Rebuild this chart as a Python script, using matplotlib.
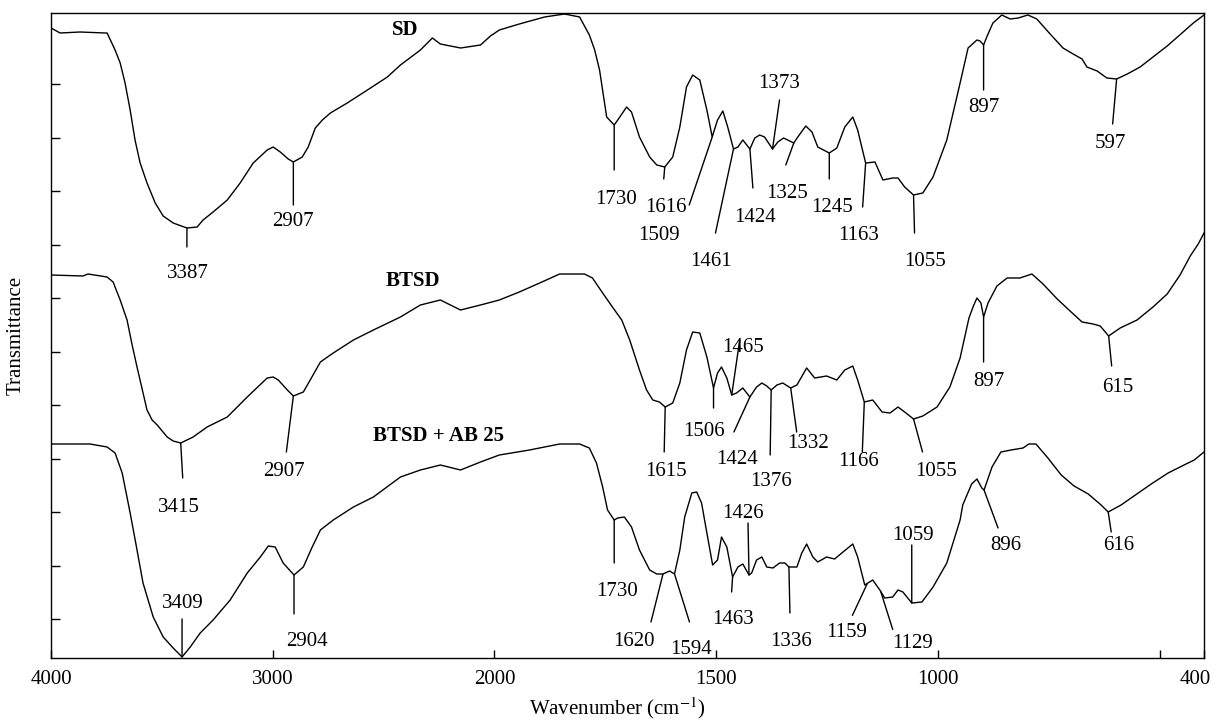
import numpy as np
import matplotlib.pyplot as plt
from matplotlib.transforms import ScaledTranslation

plt.rcParams['font.family'] = 'Liberation Serif'
plt.rcParams['mathtext.fontset'] = 'stix'

# ===================== DATA =====================
# wavenumber (cm-1) / transmittance (arbitrary units, curves stacked)
sd_wn = [4000, 3959, 3869, 3756, 3747, 3711, 3688, 3666, 3643, 3621, 3598, 3567, 3530, 3494,
         3449, 3387, 3341, 3314, 3269, 3205, 3147, 3088, 3025, 2998, 2966, 2930, 2907, 2867,
         2840, 2808, 2776, 2740, 2664, 2573, 2483, 2424, 2334, 2280,
         2244, 2153, 2063, 2018, 1989, 1944, 1887, 1842, 1808, 1786, 1774, 1763, 1747, 1730,
         1722, 1702, 1691, 1673, 1650, 1634, 1616, 1598, 1582, 1567, 1553, 1537, 1521, 1509,
         1497, 1485, 1474, 1461, 1451, 1440, 1424, 1413, 1402, 1391, 1373, 1361, 1348, 1325,
         1316, 1298, 1284, 1271, 1245, 1228, 1210, 1192, 1181, 1163, 1142, 1124, 1102, 1090,
         1075, 1055, 1034, 1011, 980, 950, 932, 912, 905, 897, 889, 876, 856, 837, 819, 797,
         777, 747, 718, 695, 675, 664, 641, 619, 597, 573, 544, 515, 483, 447, 424, 400]
sd_t = [630, 625, 626, 625, 625, 608, 595, 575, 548, 518, 495, 475, 455, 442,
        435, 430, 431, 438, 446, 458, 475, 495, 508, 511, 506, 499, 496, 501,
        511, 530, 538, 545, 555, 568, 581, 593, 608, 620,
        614, 610, 613, 622, 628, 634, 641, 644, 641, 623, 608, 588, 541, 533,
        538, 551, 546, 521, 501, 493, 491, 501, 531, 571, 583, 578, 548, 521,
        538, 547, 531, 509, 511, 518, 509, 520, 523, 521, 509, 516, 520, 515,
        521, 532, 526, 511, 505, 510, 531, 541, 528, 495, 496, 478, 480, 480,
        471, 463, 465, 481, 518, 575, 610, 618, 617, 613, 622, 635, 643, 639, 640, 643,
        639, 624, 610, 604, 599, 591, 587, 580, 579, 584, 591, 601, 612, 626, 635, 643]

btsd_wn = [4000, 3856, 3833, 3747, 3720, 3688, 3657, 3634, 3612, 3567, 3544, 3521, 3476, 3449,
           3415, 3359, 3296, 3205, 3115, 3025, 2998, 2975, 2934, 2907, 2862, 2831, 2785, 2727,
           2636, 2546, 2424, 2334, 2244, 2153, 2063, 1989, 1944, 1898, 1853, 1797, 1779, 1756,
           1734, 1713, 1695, 1673, 1657, 1643, 1628, 1615, 1598, 1582, 1567, 1553, 1537, 1521,
           1506, 1497, 1488, 1476, 1465, 1454, 1440, 1424, 1409, 1397, 1386, 1376, 1363, 1350,
           1332, 1318, 1296, 1278, 1251, 1228, 1210, 1192, 1181, 1166, 1147, 1126, 1108, 1090,
           1075, 1055, 1034, 1002, 973, 950, 930, 920, 912, 903, 897, 887, 867, 844, 815, 788,
           763, 731, 702, 675, 650, 634, 615, 589, 551, 515, 483, 454, 431, 413, 400]
btsd_t = [383, 382, 384, 381, 376, 358, 338, 313, 291, 248, 238, 233, 221, 217,
          215, 221, 231, 241, 261, 280, 281, 278, 268, 262, 266, 278, 296, 305,
          318, 328, 341, 353, 358, 348, 353, 358, 366, 375, 384, 384, 380, 365,
          351, 338, 318, 288, 268, 258, 256, 251, 255, 275, 308, 326, 325, 301,
          270, 285, 291, 280, 263, 265, 270, 261, 271, 275, 272, 268, 273, 275,
          270, 273, 290, 280, 282, 278, 288, 292, 278, 256, 258, 246, 245, 251,
          246, 239, 242, 251, 271, 300, 340, 352, 360, 355, 341, 355, 372, 380, 380, 384,
          374, 359, 347, 336, 334, 332, 322, 330, 338, 351, 364, 383, 402, 414, 425]

ab_wn = [4000, 3824, 3747, 3711, 3679, 3643, 3612, 3585, 3539, 3494, 3449, 3409, 3372, 3327,
         3269, 3192, 3115, 3056, 3020, 2989, 2953, 2904, 2862, 2822, 2785, 2727, 2636, 2546,
         2424, 2334, 2244, 2153, 2063, 1989, 1921, 1853, 1808, 1786, 1770, 1756, 1745, 1730,
         1722, 1707, 1691, 1673, 1650, 1634, 1620, 1605, 1594, 1582, 1571, 1555, 1544, 1533,
         1521, 1508, 1497, 1488, 1476, 1463, 1451, 1440, 1426, 1420, 1409, 1397, 1386, 1372,
         1357, 1345, 1336, 1318, 1307, 1296, 1282, 1271, 1251, 1233, 1214, 1192, 1181, 1165,
         1147, 1131, 1120, 1102, 1090, 1079, 1059, 1036, 1011, 980, 950, 944, 924, 912, 901,
         896, 878, 858, 835, 808, 795, 779, 752, 722, 693, 661, 632, 616, 587, 558, 519,
         481, 445, 422, 400]
ab_t = [214, 214, 211, 205, 185, 145, 108, 75, 41, 21, 10, 1, 11, 25,
        38, 58, 85, 101, 112, 111, 95, 83, 91, 111, 128, 138, 151, 161,
        181, 188, 193, 188, 196, 203, 208, 214, 214, 210, 195, 171, 148, 138,
        140, 141, 131, 108, 88, 84, 84, 87, 84, 108, 141, 165, 166, 155,
        125, 93, 98, 121, 111, 81, 91, 94, 83, 85, 98, 101, 91, 90,
        95, 95, 91, 91, 105, 114, 101, 96, 101, 99, 106, 114, 101, 73,
        78, 68, 60, 61, 68, 66, 55, 56, 71, 95, 138, 153, 174, 179, 170,
        168, 191, 206, 208, 210, 214, 214, 200, 183, 172, 164, 153, 146, 153, 162, 174,
        185, 193, 198, 206]

spectra = {
    'SD': (np.array(sd_wn), np.array(sd_t)),
    'BTSD': (np.array(btsd_wn), np.array(btsd_t)),
    'BTSD + AB 25': (np.array(ab_wn), np.array(ab_t)),
}

# series name -> label anchor (wavenumber, transmittance)
name_pos = {'SD': (2402, 628), 'BTSD': (2370, 377), 'BTSD + AB 25': (2253, 222)}

# peak labels: series, wavenumber, leader end offset, text offset (pixels)
peak_notes = [
    ('SD', 3387, (0, -19), (1, -46)),
    ('SD', 2907, (0, -43), (0, -60)),
    ('SD', 1730, (0, -45), (2, -75)),
    ('SD', 1616, (-1, -12), (1, -40)),
    ('SD', 1509, (-23, -68), (-53, -98)),
    ('SD', 1461, (-18, -84), (-23, -113)),
    ('SD', 1424, (3, -39), (5, -68)),
    ('SD', 1373, (7, 49), (7, 66)),
    ('SD', 1325, (-8, -22), (-7, -50)),
    ('SD', 1245, (0, -26), (3, -54)),
    ('SD', 1163, (-3, -44), (-7, -72)),
    ('SD', 1055, (1, -38), (12, -67)),
    ('SD', 897, (0, -45), (0, -62)),
    ('SD', 597, (-4, -45), (-6, -64)),
    ('BTSD', 3415, (2, -35), (-2, -64)),
    ('BTSD', 2907, (-7, -56), (-9, -76)),
    ('BTSD', 1615, (-1, -45), (1, -65)),
    ('BTSD', 1506, (0, -20), (-10, -44)),
    ('BTSD', 1465, (8, 55), (11, 48)),
    ('BTSD', 1424, (-16, -35), (-13, -63)),
    ('BTSD', 1376, (-1, -65), (0, -92)),
    ('BTSD', 1332, (6, -44), (17, -55)),
    ('BTSD', 1166, (-2, -50), (-6, -60)),
    ('BTSD', 1055, (9, -33), (23, -52)),
    ('BTSD', 897, (0, -45), (5, -64)),
    ('BTSD', 615, (3, -30), (9, -51)),
    ('BTSD + AB 25', 3409, (0, 38), (1, 53)),
    ('BTSD + AB 25', 2904, (0, -39), (13, -67)),
    ('BTSD + AB 25', 1730, (0, -43), (3, -72)),
    ('BTSD + AB 25', 1620, (-12, -48), (-29, -68)),
    ('BTSD + AB 25', 1594, (15, -48), (17, -75)),
    ('BTSD + AB 25', 1463, (-1, -15), (0, -42)),
    ('BTSD + AB 25', 1426, (-1, 52), (-6, 61)),
    ('BTSD + AB 25', 1336, (1, -46), (2, -75)),
    ('BTSD + AB 25', 1159, (-15, -32), (-21, -49)),
    ('BTSD + AB 25', 1129, (12, -38), (32, -52)),
    ('BTSD + AB 25', 1059, (0, 58), (1, 68)),
    ('BTSD + AB 25', 896, (14, -38), (22, -55)),
    ('BTSD + AB 25', 616, (3, -20), (10, -33)),
]

x_ticks = [4000, 3000, 2000, 1500, 1000, 500, 400]
x_tick_labels = ['4000', '3000', '2000', '1500', '1000', '', '400']


# ===================== AXIS SCALE =====================
# below 2000 cm-1 the axis is stretched by a factor of two
def wn_forward(w):
    w = np.asarray(w, dtype=float)
    return np.where(w >= 2000, w, 2 * w - 2000)


def wn_inverse(u):
    u = np.asarray(u, dtype=float)
    return np.where(u >= 2000, u, (u + 2000) / 2)


# ===================== PLOT =====================
fig = plt.figure(figsize=(12.13, 7.22), dpi=100)
ax = fig.add_axes([51 / 1213, 64 / 722, 1153 / 1213, 645.3 / 722])
ax.set_xscale('function', functions=(wn_forward, wn_inverse))
ax.set_xlim(4000, 400)
ax.set_ylim(0, 645.3)

for name, (wn, t) in spectra.items():
    ax.plot(wn, t, color='black', lw=1.0)
    ax.text(*name_pos[name], name, ha='center', va='center',
            fontsize=15, fontweight='bold')

for name, val, (ldx, ldy), (tdx, tdy) in peak_notes:
    wn, t = spectra[name]
    y0 = np.interp(val, wn[::-1], t[::-1])
    ax.annotate('', xy=(val, y0), xytext=(ldx, ldy), textcoords='offset pixels',
                arrowprops=dict(arrowstyle='-', color='black', lw=1.0,
                                shrinkA=0, shrinkB=0))
    ax.annotate(str(val), xy=(val, y0), xytext=(tdx, tdy), textcoords='offset pixels',
                ha='center', va='center', fontsize=15)

ax.set_xticks(x_ticks)
ax.set_xticklabels(x_tick_labels)
ax.xaxis.set_minor_locator(plt.NullLocator())
ax.set_yticks(np.arange(39, 575, 53.5))
ax.tick_params(axis='x', direction='in', length=6, width=1.0, labelsize=15, pad=8.5)
ax.tick_params(axis='y', direction='in', length=6.5, width=1.0, labelleft=False)
for sp in ax.spines.values():
    sp.set_linewidth(1.0)

# keep the last tick label inside the figure
last = ax.get_xticklabels()[-1]
last.set_ha('right')
last.set_transform(last.get_transform() + ScaledTranslation(0.07, 0, fig.dpi_scale_trans))

ax.set_xlabel(r'Wavenumber (cm$^{\mathrm{-1}}$)', fontsize=15)
ax.xaxis.set_label_coords((617 - 51) / 1153, -0.057)
ax.set_ylabel('Transmittance', fontsize=15)
ax.yaxis.set_label_coords(-0.022, 0.5)

fig.savefig('out.png', dpi=100)
